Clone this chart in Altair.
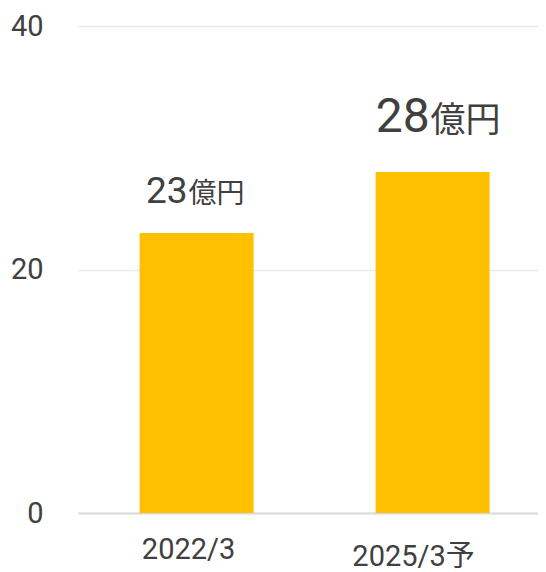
import altair as alt
import pandas as pd

categories = ["2022/3", "2025/3予"]
values = [23, 28]
units = ["億円", "億円"]

df = pd.DataFrame({"category": categories, "value": values, "unit": units})

FONT = "Roboto, Noto Sans CJK JP, sans-serif"
TEXT = "#404040"
BAR = "#FFC000"

x = alt.X(
    "category:N", sort=categories, title=None,
    scale=alt.Scale(paddingInner=0.517, paddingOuter=0.233, align=0.56),
    axis=alt.Axis(
        labelAngle=0, labelFontSize=29, labelColor=TEXT, labelFont=FONT,
        ticks=False, domain=True, domainColor="#D9D9D9", domainWidth=2,
        grid=False, labelBaseline="top",
        labelOffset={"condition": {"test": "datum.value == '2022/3'", "value": -8}, "value": -19},
        labelPadding={"condition": {"test": "datum.value == '2022/3'", "value": 22}, "value": 29},
    ),
)
y = alt.Y(
    "value:Q", title=None,
    scale=alt.Scale(domain=[0, 40], nice=False),
    axis=alt.Axis(
        values=[0, 20, 40], labelFontSize=29, labelColor=TEXT, labelFont=FONT,
        ticks=False, domain=False, gridColor="#EBEBEB", gridWidth=1.5,
        labelPadding=35,
    ),
)

base = alt.Chart(df).encode(x=x, y=y)
bars = base.mark_bar(color=BAR)

# label styling per bar: (number size, unit size, dx, dy)
styles = {"2022/3": (37, 28, -9, -30), "2025/3予": (48, 35, -3, -40)}
layers = [bars]
for cat, (ns, us, dx, dy) in styles.items():
    sub = base.transform_filter(alt.datum.category == cat)
    layers.append(sub.mark_text(align="right", baseline="alphabetic", dx=dx, dy=dy,
                                fontSize=ns, font=FONT, color=TEXT)
                  .encode(text=alt.Text("value:Q", format="d")))
    layers.append(sub.mark_text(align="left", baseline="alphabetic", dx=dx + 1, dy=dy,
                                fontSize=us, font=FONT, color=TEXT)
                  .encode(text="unit:N"))

chart = alt.layer(*layers).properties(
    width=460, height=487,
    padding={"left": 70, "top": 18, "right": 0, "bottom": 64},
    autosize=alt.AutoSizeParams(type="none"),
).configure_view(stroke=None)

chart.save("out.html", embed_options={"renderer": "svg", "actions": False})
